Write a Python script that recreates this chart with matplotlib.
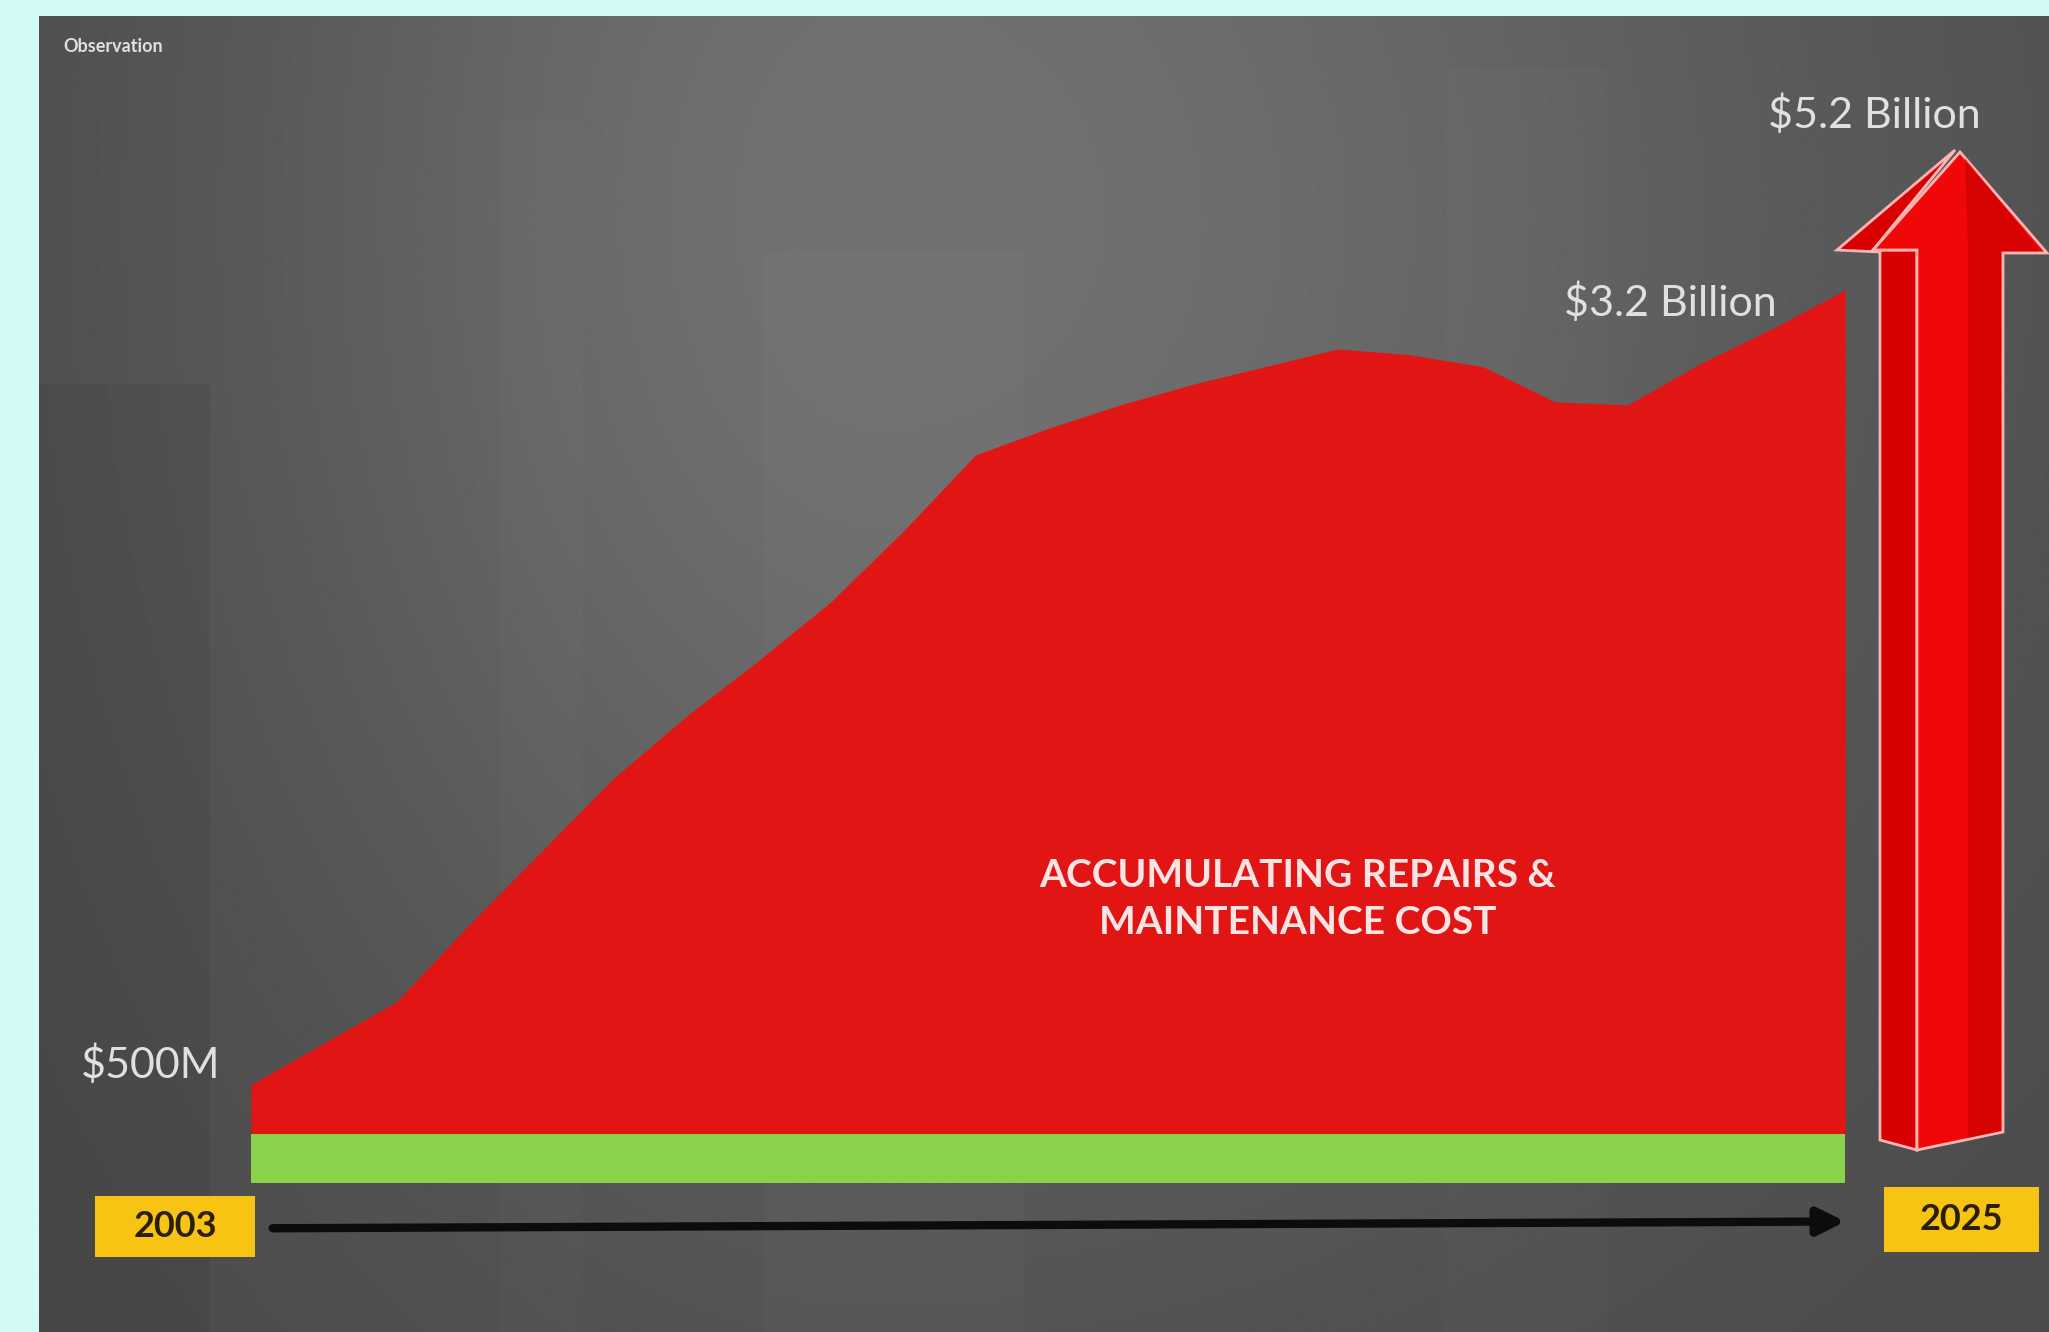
import numpy as np
import matplotlib.pyplot as plt
from matplotlib.patches import Polygon, Rectangle

# Yearly repairs & maintenance cost, in billions of dollars
years = list(range(2003, 2026))
cost_bn = [0.50, 0.64, 0.78, 1.04, 1.29, 1.54, 1.75, 1.94, 2.14, 2.38, 2.64,
           2.73, 2.81, 2.88, 2.94, 3.00, 2.98, 2.94, 2.82, 2.81, 2.95, 3.07, 3.20]
start_label = '$500M'
end_label = '$3.2 Billion'
projected_label = '$5.2 Billion'
year_labels = ['2003', '2025']
area_title = 'ACCUMULATING REPAIRS &\nMAINTENANCE COST'

W, H = 2049, 1332
fig = plt.figure(figsize=(W / 100, H / 100), dpi=100, facecolor='#d4faf6')
plt.rcParams['font.family'] = ['Lato', 'DejaVu Sans']


def fx(px):
    return px / W


def fy(py):
    return 1 - py / H


# dark slide background with a soft light spot near the top
bg = fig.add_axes([fx(39), 0, 1 - fx(39), fy(16)])
gx, gy = np.meshgrid(np.linspace(0, 1, 800), np.linspace(0, 1, 520))
sx = np.where(gx < 0.42, 0.33, 0.50)
shade = 0.285 + 0.16 * np.exp(-((gx - 0.42) / sx) ** 2 - ((gy - 0.15) / 0.75) ** 2)
bg.imshow(shade, cmap='gray', vmin=0, vmax=1, aspect='auto',
          extent=(0, 1, 1, 0), interpolation='bilinear')
# faint building silhouettes
for x0, y0, w, h, c, a in [(0.0, 0.28, 0.085, 0.72, 'black', 0.06),
                           (0.23, 0.08, 0.04, 0.92, 'white', 0.015),
                           (0.36, 0.18, 0.13, 0.82, 'white', 0.02),
                           (0.70, 0.04, 0.08, 0.96, 'white', 0.015)]:
    bg.add_patch(Rectangle((x0, y0), w, h, color=c, alpha=a, lw=0))
bg.set_xlim(0, 1)
bg.set_ylim(1, 0)
bg.axis('off')

# main chart axes, years on x and billions on y
ax = fig.add_axes([0, 0, 1, 1])
ax.set_xlim(1999.538, 2027.812)
ax.set_ylim(-0.3405, 4.1856)
ax.axis('off')
ax.patch.set_alpha(0)

floor = 0.331
ax.fill_between(years, cost_bn, floor, color='#e21515', lw=0, zorder=2)
ax.fill_between([years[0], years[-1]], 0.167, floor, color='#8bd24b', lw=0, zorder=2)

# timeline arrow
ax.annotate('', xy=(years[-1], 0.035), xytext=(years[0] + 0.3, 0.012),
            arrowprops=dict(arrowstyle='-|>', color='#0c0c0c', lw=6,
                            mutation_scale=40, shrinkA=0, shrinkB=0), zorder=3)

label_kw = dict(color='#e0e0e0', fontsize=31, textcoords='offset pixels',
                va='center')
ax.annotate(start_label, xy=(years[0], cost_bn[0]), xytext=(-31, 20),
            ha='right', **label_kw)
ax.annotate(end_label, xy=(years[-1], cost_bn[-1]), xytext=(-68, -13),
            ha='right', **label_kw)

fig.text(fx(1298), fy(899), area_title, ha='center', va='center',
         fontsize=28, fontweight='bold', color='#fbe4e4', linespacing=1.4)

# year boxes
for label, (x0, y0, x1, y1) in zip(year_labels, [(95, 1196, 255, 1257),
                                                 (1884, 1187, 2039, 1252)]):
    fig.patches.append(Rectangle((fx(x0), fy(y1)), fx(x1 - x0), (y1 - y0) / H,
                                 transform=fig.transFigure, color='#f8c414',
                                 lw=0, zorder=4))
    fig.text(fx((x0 + x1) / 2), fy((y0 + y1) / 2), label, ha='center',
             va='center', fontsize=26, fontweight='bold', color='#2a1f05',
             zorder=5)

# projected growth arrow with a side face
def poly(pts, **kw):
    p = Polygon([(fx(x), fy(y)) for x, y in pts], closed=True,
                transform=fig.transFigure, **kw)
    fig.patches.append(p)


edge = '#ffb4b4'
poly([(1955, 150), (1837, 250), (1880, 252), (1880, 1140), (1917, 1150),
      (1917, 250), (1873, 250)], facecolor='#d80000', edgecolor=edge, lw=2,
     zorder=4)
poly([(1960, 152), (1873, 250), (1917, 250), (1917, 1150), (2003, 1132),
      (2003, 253), (2047, 253)], facecolor='#f00808', edgecolor=edge, lw=2,
     zorder=4)
poly([(1965, 158), (2040, 251), (2001, 251), (2001, 1131), (1968, 1138),
      (1968, 251)], facecolor='#c00000', edgecolor='none', alpha=0.5,
     zorder=4)

fig.text(fx(1874), fy(115), projected_label, ha='center', va='center',
         fontsize=31, color='#e0e0e0')
fig.text(fx(63), fy(47), 'Observation', ha='left', va='center', fontsize=13,
         fontweight='bold', color='#e0e0e0')

fig.savefig('out.png', dpi=100, facecolor=fig.get_facecolor())
